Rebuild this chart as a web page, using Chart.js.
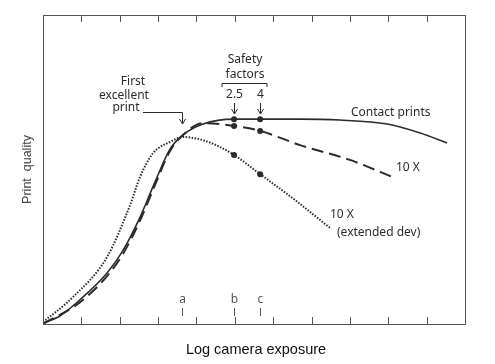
<!DOCTYPE html>
<html>
<head>
<meta charset="utf-8">
<script src="https://cdn.jsdelivr.net/npm/chart.js@4/dist/chart.umd.min.js"></script>
<style>
  html, body { margin: 0; padding: 0; background: #fff; }
  #wrap { width: 495px; height: 364px; }
</style>
</head>
<body>
<div id="wrap"><canvas id="chart" width="495" height="364"></canvas></div>
<script>
// Log camera exposure (arbitrary units) vs print quality (arbitrary units)
const contactExposure = [0, 0.44, 0.96, 1.67, 2.09, 2.53, 2.92, 3.31, 3.65, 4.17, 4.98, 5.66, 6.70, 7.74, 8.97, 9.83, 10.53];
const contactQuality  = [0.03, 0.26, 0.78, 1.65, 2.39, 3.46, 4.60, 5.66, 6.12, 6.47, 6.63, 6.63, 6.63, 6.60, 6.47, 6.18, 5.86];

const tenxExposure = [0, 0.96, 1.67, 2.09, 2.53, 2.92, 3.31, 3.65, 4.17, 4.98, 5.66, 6.70, 8.00, 9.18];
const tenxQuality  = [0, 0.70, 1.55, 2.28, 3.35, 4.50, 5.60, 6.12, 6.50, 6.41, 6.25, 5.79, 5.31, 4.72];

const extDevExposure = [0, 0.78, 1.67, 2.27, 2.53, 2.87, 3.31, 3.65, 4.17, 4.61, 4.98, 5.66, 6.57, 7.48];
const extDevQuality  = [0.06, 0.87, 2.17, 3.85, 4.76, 5.53, 5.89, 6.05, 5.95, 5.73, 5.47, 4.85, 4.01, 3.11];

// safety factor exposures (2.5 and 4) and reference letters
const markedExposures = [4.98, 5.66];
const safetyLabels = ['2.5', '4'];
const refLabels = ['a', 'b', 'c'];
const refExposures = [3.62, 4.98, 5.66];
const xTicks = [1, 2, 3, 4, 5, 6, 7, 8, 9, 10];

function toPoints(xs, ys) {
  return xs.map((x, i) => ({ x: x, y: ys[i] }));
}

const ink = '#2b2b2b';
const annoFont = '12px "Noto Sans", sans-serif';

function markRadius(ctx) {
  return markedExposures.includes(ctx.raw.x) ? 3 : 0;
}

// frame, inward ticks and all the annotations
const decorations = {
  id: 'decorations',
  afterDraw(chart) {
    const c = chart.ctx;
    const xs = chart.scales.x, ys = chart.scales.y;
    const a = chart.chartArea;
    c.save();
    c.strokeStyle = '#555';
    c.lineWidth = 1;
    c.strokeRect(a.left + 0.5, a.top + 0.5, a.right - a.left, a.bottom - a.top);
    xTicks.forEach(v => {
      const px = Math.round(xs.getPixelForValue(v)) + 0.5;
      c.beginPath();
      c.moveTo(px, a.top); c.lineTo(px, a.top + 7);
      c.moveTo(px, a.bottom); c.lineTo(px, a.bottom - 7);
      c.stroke();
    });

    // reference letters a b c
    c.fillStyle = '#555';
    c.font = annoFont;
    c.textAlign = 'center';
    c.textBaseline = 'middle';
    refLabels.forEach((lab, i) => {
      const px = Math.round(xs.getPixelForValue(refExposures[i])) + 0.5;
      c.fillText(lab, px, a.bottom - 24);
      c.beginPath();
      c.moveTo(px, a.bottom - 16); c.lineTo(px, a.bottom - 8);
      c.stroke();
    });

    // axis titles
    c.fillStyle = '#111';
    c.font = '14.5px "Liberation Sans", Arial, sans-serif';
    c.fillText('Log camera exposure', (a.left + a.right) / 2 + 2, 350);
    c.save();
    c.translate(28, (a.top + a.bottom) / 2);
    c.rotate(-Math.PI / 2);
    c.fillStyle = '#444';
    c.font = '12.5px "Liberation Sans", Arial, sans-serif';
    c.fillText('Print  quality', 0, 0);
    c.restore();

    // text annotations
    c.fillStyle = ink;
    c.strokeStyle = ink;
    c.font = annoFont;
    c.fillText('First', 133, 82);
    c.fillText('excellent', 124, 96);
    c.fillText('print', 126, 108);
    const ax = Math.round(xs.getPixelForValue(refExposures[0])) + 0.5;
    c.beginPath();
    c.moveTo(143, 112.5); c.lineTo(ax, 112.5); c.lineTo(ax, 123);
    c.stroke();
    arrowHead(c, ax, 124);

    c.fillText('Safety', 245, 60);
    c.fillText('factors', 245, 75);
    c.beginPath();
    c.moveTo(222, 87); c.lineTo(222, 83.5); c.lineTo(267, 83.5); c.lineTo(267, 87);
    c.stroke();
    markedExposures.forEach((v, i) => {
      const px = Math.round(xs.getPixelForValue(v)) + 0.5;
      c.fillText(safetyLabels[i], px, 95);
      c.beginPath();
      c.moveTo(px, 103); c.lineTo(px, 113);
      c.stroke();
      arrowHead(c, px, 114);
    });

    c.textAlign = 'left';
    c.fillText('Contact prints', 351, 113);
    c.fillText('10 X', 396, 168);
    c.fillText('10 X', 330, 215);
    c.fillText('(extended dev)', 337, 233);
    c.restore();
  }
};

function arrowHead(c, x, y) {
  c.beginPath();
  c.moveTo(x - 3, y - 5); c.lineTo(x, y); c.lineTo(x + 3, y - 5);
  c.stroke();
}

new Chart(document.getElementById('chart'), {
  type: 'line',
  data: {
    datasets: [
      {
        label: 'Contact prints',
        data: toPoints(contactExposure, contactQuality),
        borderColor: ink, backgroundColor: ink,
        borderWidth: 1.6, cubicInterpolationMode: 'monotone',
        pointRadius: markRadius, pointBorderWidth: 0
      },
      {
        label: '10 X',
        data: toPoints(tenxExposure, tenxQuality),
        borderColor: ink, backgroundColor: ink,
        borderWidth: 2, borderDash: [12, 6], cubicInterpolationMode: 'monotone',
        pointRadius: markRadius, pointBorderWidth: 0
      },
      {
        label: '10 X (extended dev)',
        data: toPoints(extDevExposure, extDevQuality),
        borderColor: ink, backgroundColor: ink,
        borderWidth: 2, borderDash: [1.5, 1.5], cubicInterpolationMode: 'monotone',
        pointRadius: markRadius, pointBorderWidth: 0
      }
    ]
  },
  options: {
    responsive: false,
    animation: false,
    layout: { padding: { left: 43, right: 30, top: 15, bottom: 40 } },
    plugins: { legend: { display: false }, tooltip: { enabled: false } },
    scales: {
      x: { type: 'linear', min: 0, max: 11, display: false },
      y: { type: 'linear', min: 0, max: 10, display: false }
    }
  },
  plugins: [decorations]
});
</script>
</body>
</html>
